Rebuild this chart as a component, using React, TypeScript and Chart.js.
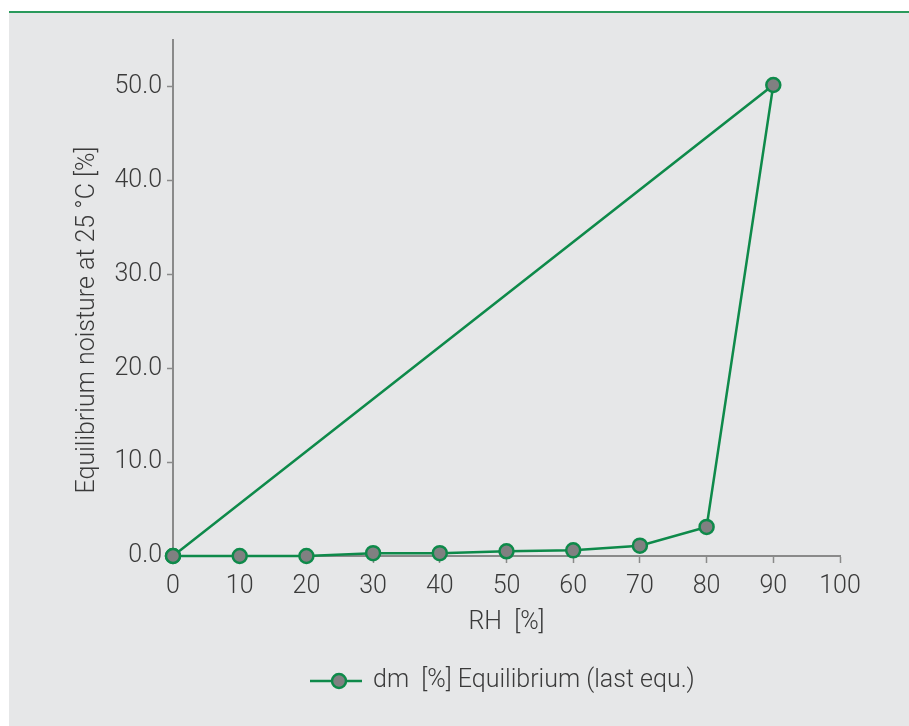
import React, { useEffect, useRef } from "react";
import { Chart, registerables } from "chart.js";

Chart.register(...registerables);

const rhValues = [0, 10, 20, 30, 40, 50, 60, 70, 80, 90, 0];
const moistureValues = [0, 0, 0, 0.3, 0.3, 0.5, 0.6, 1.1, 3.1, 50.2, 0];
const xTicks = [0, 10, 20, 30, 40, 50, 60, 70, 80, 90, 100];
const yTicks = [0, 10, 20, 30, 40, 50];
const seriesLabel = "dm  [%] Equilibrium (last equ.)";
const xTitle = "RH  [%]";
const yTitle = "Equilibrium noisture at 25 °C [%]";

const GREEN = "#0e8a4a";
const AXIS = "#8a8a8a";
const TEXT = "#3a3a3a";
const FONT = "Roboto, 'Liberation Sans', sans-serif";

export default function App() {
  const ref = useRef<HTMLCanvasElement | null>(null);

  useEffect(() => {
    document.body.style.margin = "0";
    const textPlugin = {
      id: "customText",
      afterDraw(chart: any) {
        const ctx = chart.ctx;
        ctx.save();
        // y-axis title
        ctx.font = `300 25px ${FONT}`;
        ctx.fillStyle = TEXT;
        ctx.textAlign = "center";
        ctx.textBaseline = "middle";
        ctx.translate(88, 320);
        ctx.rotate(-Math.PI / 2);
        ctx.fillText(yTitle, 0, 0);
        ctx.restore();

        // legend
        const y = 681;
        ctx.save();
        ctx.font = `300 25px ${FONT}`;
        const x0 = 310;
        ctx.strokeStyle = GREEN;
        ctx.lineWidth = 2.5;
        ctx.beginPath();
        ctx.moveTo(x0, y);
        ctx.lineTo(x0 + 52, y);
        ctx.stroke();
        ctx.beginPath();
        ctx.arc(x0 + 29, y, 7, 0, Math.PI * 2);
        ctx.fillStyle = "#808081";
        ctx.fill();
        ctx.lineWidth = 2.5;
        ctx.stroke();
        ctx.fillStyle = TEXT;
        ctx.textBaseline = "middle";
        ctx.textAlign = "left";
        ctx.fillText(seriesLabel, 373, y);
        ctx.restore();
      },
    };

    const chart = new Chart(ref.current!, {
      type: "scatter",
      data: {
        datasets: [
          {
            label: seriesLabel,
            data: rhValues.map((x, i) => ({ x, y: moistureValues[i] })),
            showLine: true,
            clip: false as any,
            borderColor: GREEN,
            borderWidth: 2.5,
            backgroundColor: "#808081",
            pointBackgroundColor: "#808081",
            pointBorderColor: GREEN,
            pointBorderWidth: 2.5,
            pointRadius: 7,
            tension: 0,
          },
        ],
      },
      options: {
        animation: false,
        responsive: false,
        layout: { padding: { left: 73, right: 69, top: 40, bottom: 88 } },
        plugins: {
          legend: { display: false },
          tooltip: { enabled: false },
        },
        scales: {
          x: {
            type: "linear",
            min: 0,
            max: 100,
            afterFit: (s: any) => {
              s.height = 82;
            },
            afterBuildTicks: (s: any) => {
              s.ticks = xTicks.map((v) => ({ value: v }));
            },
            grid: {
              drawOnChartArea: false,
              drawTicks: true,
              tickLength: 7,
              tickColor: AXIS,
              tickWidth: 1.5,
            },
            border: { display: true, color: AXIS, width: 2 },
            ticks: {
              padding: 9,
              color: TEXT,
              font: { family: FONT, size: 25, weight: "300" as any, lineHeight: 1.2 },
              maxRotation: 0,
              autoSkip: false,
            },
            title: {
              display: true,
              text: xTitle,
              color: TEXT,
              padding: 0,
              font: { family: FONT, size: 25, weight: "300" as any, lineHeight: 1.2 },
            },
          },
          y: {
            type: "linear",
            min: 0,
            max: 55,
            afterFit: (s: any) => {
              s.width = 100;
            },
            afterBuildTicks: (s: any) => {
              s.ticks = yTicks.map((v) => ({ value: v }));
            },
            grid: {
              drawOnChartArea: false,
              drawTicks: true,
              tickLength: 6,
              tickColor: AXIS,
              tickWidth: 1.5,
            },
            border: { display: true, color: AXIS, width: 2 },
            ticks: {
              padding: 5,
              color: TEXT,
              font: { family: FONT, size: 25, weight: "300" as any, lineHeight: 1.2 },
              callback: (v: any) => Number(v).toFixed(1),
            },
            title: { display: false },
          },
        },
      },
      plugins: [textPlugin],
    });
    return () => chart.destroy();
  }, []);

  return (
    <div style={{ position: "relative", width: 909, height: 726, background: "#ffffff", overflow: "hidden" }}>
      <div
        style={{
          position: "absolute",
          left: 9,
          top: 11,
          width: 900,
          height: 715,
          background: "#e6e7e8",
          borderTop: "2px solid #2a9a5c",
          boxSizing: "border-box",
        }}
      />
      <canvas ref={ref} width={909} height={726} style={{ position: "absolute", left: 0, top: 0, display: "block" }} />
    </div>
  );
}
